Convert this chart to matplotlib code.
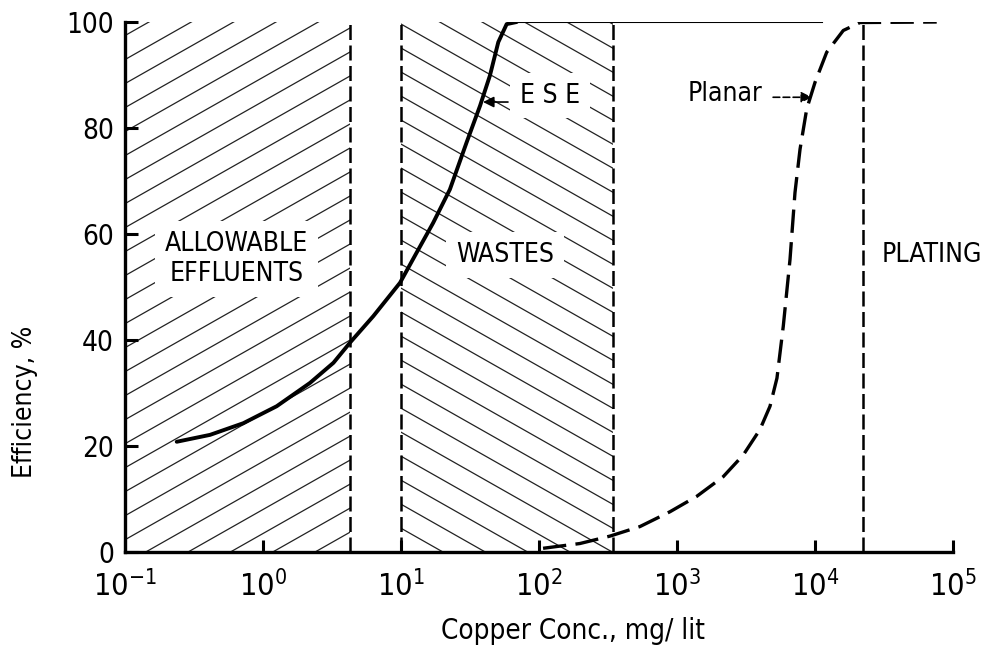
import matplotlib
matplotlib.use("Agg")
import matplotlib.pyplot as plt
import matplotlib.font_manager as fm
import numpy as np
from matplotlib.ticker import NullLocator

# ESE electrode efficiency (solid)
ese_conc = [0.237, 0.413, 0.72, 1.256, 2.19, 3.24, 4.27, 6.3, 9.84, 12.8, 17.1, 22.6, 29.9,
            37.4, 44.1, 50.7, 58.3, 68.9]
ese_eff = [20.8, 22.1, 24.3, 27.5, 31.9, 35.7, 39.5, 44.5, 50.8, 56.2, 62.1, 68.4, 77.3,
           84.2, 89.9, 96.2, 99.6, 100]
ese_plateau_conc = [68.9, 11160]
ese_plateau_eff = [100, 100]

# Planar electrode efficiency (dashed)
planar_conc = [107, 198, 327, 539, 890, 1390, 2160, 3020, 3990, 4720, 5300, 5890, 6590,
               7160, 7790, 8710, 10000, 12160, 16030, 21200, 76200]
planar_eff = [0.7, 1.6, 3.0, 4.8, 7.6, 10.5, 14.2, 18.3, 23.1, 27.5, 32.8, 42.6, 55.2,
              67.8, 76, 83.6, 88.6, 94.3, 98.4, 99.9, 100]

# region boundaries
allowable_range = [0.1, 4.3]
wastes_range = [10, 344]
plating_limit = 22400

x_ticks = [1e-1, 1e0, 1e1, 1e2, 1e3, 1e4, 1e5]
y_ticks = [0, 20, 40, 60, 80, 100]


def pick_narrow_font():
    # the original lettering is tall and narrow, use a condensed face if one exists
    found = []
    for f in fm.fontManager.ttflist:
        low = f.fname.lower()
        if ("condensed" in low or "narrow" in low) and f.weight in (400, "normal", "regular") \
                and f.style == "normal" and "semi" not in low and "extra" not in low \
                and "ultra" not in low:
            found.append(f)
    if found:
        found.sort(key=lambda f: (f.name not in ("Liberation Sans Narrow", "DejaVu Sans",
                                                 "Noto Sans", "Roboto", "Open Sans"), f.name))
        return found[0].name, found[0].stretch
    return "Liberation Sans", "normal"


font_name, font_stretch = pick_narrow_font()
plt.rcParams["font.family"] = [font_name, "DejaVu Sans"]
plt.rcParams["font.stretch"] = font_stretch

fig = plt.figure(figsize=(9.9, 6.48), dpi=100)
ax = fig.add_axes([125 / 990, 1 - 552 / 648, 828 / 990, 530 / 648])
ax.set_xscale("log")
ax.set_xlim(0.1, 1e5)
ax.set_ylim(0, 100)


def hatch_region(x0, x1, direction):
    # slanted hatch lines clipped to the region
    patch = ax.axvspan(x0, x1, facecolor="none", edgecolor="none")
    slope = 0.886 * direction
    for c in np.arange(-1.2, 2.2, 0.0453):
        xs = np.array([0.0, 1.0])
        line, = ax.plot(xs, slope * xs + c, transform=ax.transAxes,
                        color="#222222", lw=0.9, zorder=1)
        line.set_clip_path(patch)


hatch_region(allowable_range[0], allowable_range[1], 1)
hatch_region(wastes_range[0], wastes_range[1], -1)

for xv in [allowable_range[1], wastes_range[0], wastes_range[1], plating_limit]:
    ax.plot([xv, xv], [0, 100], color="black", lw=1.8, dashes=(6, 2.2), zorder=2)

ax.plot(ese_conc, ese_eff, color="black", lw=2.8, solid_capstyle="round", zorder=4)
ax.plot(ese_plateau_conc, ese_plateau_eff, color="black", lw=1.5, zorder=4)
ax.plot(planar_conc, planar_eff, color="black", lw=2.4, dashes=(7, 2.8), zorder=4)

box = dict(facecolor="white", edgecolor="none", pad=7)
TXT = 19
ax.text(0.64, 55.3, "ALLOWABLE\nEFFLUENTS", ha="center", va="center",
        fontsize=TXT, linespacing=1.2, bbox=box, zorder=3)
ax.text(56.8, 56, "WASTES", ha="center", va="center", fontsize=TXT, bbox=box, zorder=3)
ax.text(70500, 56.1, "PLATING", ha="center", va="center", fontsize=TXT, zorder=3)

ax.text(72.8, 86.1, "E S E", ha="left", va="center", fontsize=TXT, bbox=box, zorder=3)
ax.annotate("", xy=(39.3, 84.9), xytext=(59.6, 84.9), zorder=5,
            arrowprops=dict(arrowstyle="-|>", color="black", lw=1.2,
                            mutation_scale=16, shrinkA=0, shrinkB=0))
ax.text(4130, 86.4, "Planar", ha="right", va="center", fontsize=TXT, zorder=3)
ax.annotate("", xy=(9510, 85.8), xytext=(4970, 85.8), zorder=5,
            arrowprops=dict(arrowstyle="-|>", color="black", lw=1.2,
                            linestyle=(0, (4, 2)),
                            mutation_scale=16, shrinkA=0, shrinkB=0))

for side in ["top", "right"]:
    ax.spines[side].set_visible(False)
for side in ["left", "bottom"]:
    ax.spines[side].set_linewidth(2.4)

ax.set_xticks(x_ticks)
ax.xaxis.set_minor_locator(NullLocator())
ax.set_yticks(y_ticks)
ax.tick_params(axis="both", direction="in", length=9, width=2.2)
ax.tick_params(axis="x", pad=13, labelsize=22)
ax.tick_params(axis="y", pad=8, labelsize=20)

ax.set_xlabel("Copper Conc., mg/ lit", fontsize=20)
ax.xaxis.set_label_coords(0.541, -0.122)
ax.set_ylabel("Efficiency, %", fontsize=19)
ax.yaxis.label.set_verticalalignment("center")
ax.yaxis.set_label_coords(-0.121, 0.283)

fig.savefig("out.png", dpi=100)
